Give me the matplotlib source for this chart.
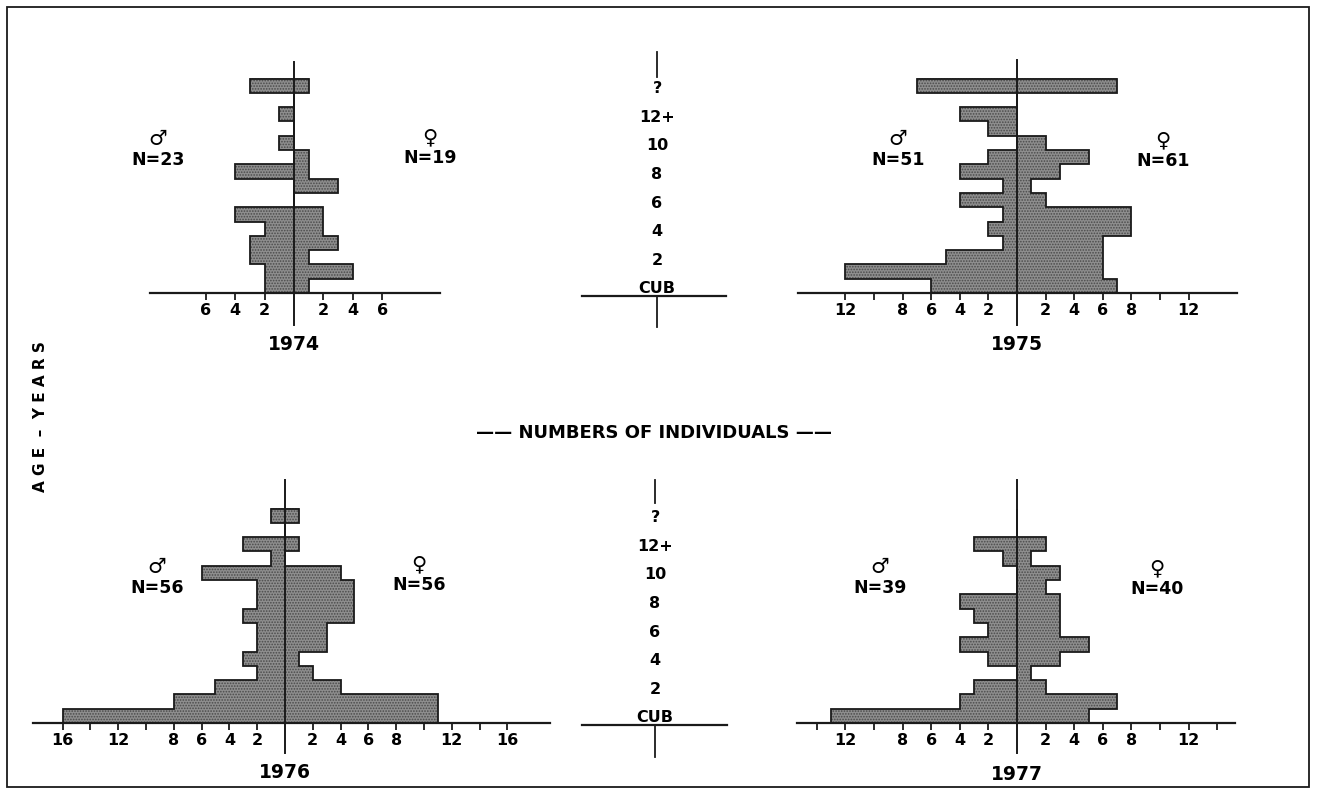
import numpy as np
import matplotlib
matplotlib.use("Agg")
import matplotlib.pyplot as plt
from matplotlib.patches import Rectangle

# age classes, bottom to top (row 13 is an empty spacer before "?")
age_rows = ["CUB", "1", "2", "3", "4", "5", "6", "7", "8", "9", "10", "11", "12+", "", "?"]
center_labels = ["CUB", "2", "4", "6", "8", "10", "12+", "?"]
center_rows = [0, 2, 4, 6, 8, 10, 12, 14]

male_1974 = [2, 2, 3, 3, 2, 4, 0, 0, 4, 0, 1, 0, 1, 0, 3]
female_1974 = [1, 4, 1, 3, 2, 2, 0, 3, 1, 1, 0, 0, 0, 0, 1]
male_1975 = [6, 12, 5, 1, 2, 1, 4, 1, 4, 2, 0, 2, 4, 0, 7]
female_1975 = [7, 6, 6, 6, 8, 8, 2, 1, 3, 5, 2, 0, 0, 0, 7]
male_1976 = [16, 8, 5, 2, 3, 2, 2, 3, 2, 2, 6, 1, 3, 0, 1]
female_1976 = [11, 11, 4, 2, 1, 3, 3, 5, 5, 5, 4, 0, 1, 0, 1]
male_1977 = [13, 4, 3, 0, 2, 4, 2, 3, 4, 0, 0, 1, 3, 0, 0]
female_1977 = [5, 7, 2, 1, 3, 5, 3, 3, 3, 2, 3, 1, 2, 0, 0]

n_male = {"1974": 23, "1975": 51, "1976": 56, "1977": 39}
n_female = {"1974": 19, "1975": 61, "1976": 56, "1977": 40}

W, H = 1317, 791
ROW = 14.3  # px per age class
FACE = "#8e8e8e"
INK = "#1a1a1a"

plt.rcParams["font.family"] = "DejaVu Sans"
plt.rcParams["font.weight"] = "bold"
plt.rcParams["hatch.color"] = "#4a4a4a"
plt.rcParams["hatch.linewidth"] = 0.8

fig = plt.figure(figsize=(W / 100, H / 100), dpi=100)


def fx(x):
    return x / W


def fy(y):
    return 1 - y / H


def pyramid(year, male, female, zx, s, L, R, B, T, vbot, ticks, labeled, year_y):
    ax = fig.add_axes([fx(L), fy(B), (R - L) / W, (B - T) / H])
    ax.set_xlim((L - zx) / s, (R - zx) / s)
    top = (B - T) / ROW
    ax.set_ylim(0, top)
    male = np.array(male)
    female = np.array(female)
    rows = np.arange(len(male))
    edges = np.arange(len(male) + 1)
    ax.barh(rows, -male, height=1, align="edge", color=FACE, hatch="......", linewidth=0)
    ax.barh(rows, female, height=1, align="edge", color=FACE, hatch="......", linewidth=0)
    ax.stairs(-male, edges, orientation="horizontal", baseline=0, color=INK, lw=1.3)
    ax.stairs(female, edges, orientation="horizontal", baseline=0, color=INK, lw=1.3)
    ax.plot([0, 0], [-(vbot - B) / ROW, top], color=INK, lw=1.4, clip_on=False)
    for sp in ["top", "left", "right"]:
        ax.spines[sp].set_visible(False)
    ax.spines["bottom"].set_linewidth(1.6)
    ax.spines["bottom"].set_color(INK)
    ax.set_yticks([])
    ax.set_xticks(ticks)
    ax.set_xticklabels([str(abs(t)) if abs(t) in labeled else "" for t in ticks],
                       fontsize=11.5, fontweight="bold")
    ax.tick_params(axis="x", direction="out", length=5, width=1.3, pad=2, color=INK)
    fig.text(fx(zx), fy(year_y), year, ha="center", va="center", fontsize=13.5, fontweight="bold")
    return ax


def sex_label(x, y, sym, n):
    fig.text(fx(x), fy(y - 21), sym, ha="center", va="center", fontsize=15, fontweight="bold")
    fig.text(fx(x), fy(y), "N=%d" % n, ha="center", va="center", fontsize=12.5, fontweight="bold")


def age_column(B, T, L, R, xc, vtop, vbot):
    ax = fig.add_axes([fx(L), fy(B), (R - L) / W, (B - T) / H])
    ax.set_xlim(L, R)
    top = (B - T) / ROW
    ax.set_ylim(0, top)
    ax.axis("off")
    ax.plot([L, R], [0, 0], color=INK, lw=1.6, clip_on=False)
    ax.plot([xc, xc], [(B - vtop) / ROW, top], color=INK, lw=1.3, clip_on=False)
    ax.plot([xc, xc], [0, -(vbot - B) / ROW], color=INK, lw=1.3, clip_on=False)
    for lab, r in zip(center_labels, center_rows):
        ax.text(xc, r + 0.5, lab, ha="center", va="center", fontsize=11.5, fontweight="bold")


t12 = [-12, -10, -8, -6, -4, -2, 2, 4, 6, 8, 10, 12]
t14 = [-14, -12, -10, -8, -6, -4, -2, 2, 4, 6, 8, 10, 12, 14]
t16 = [-16, -14, -12, -10, -8, -6, -4, -2, 2, 4, 6, 8, 10, 12, 14, 16]

pyramid("1974", male_1974, female_1974, 294, 14.7, 150, 440, 293, 62, 325,
        [-6, -4, -2, 2, 4, 6], [2, 4, 6], 345)
pyramid("1975", male_1975, female_1975, 1017, 14.3, 798, 1237, 293, 60, 325,
        t12, [2, 4, 6, 8, 12], 345)
pyramid("1976", male_1976, female_1976, 285, 13.9, 33, 550, 723, 480, 753,
        t16, [2, 4, 6, 8, 12, 16], 773)
pyramid("1977", male_1977, female_1977, 1017, 14.3, 797, 1235, 723, 480, 753,
        t14, [2, 4, 6, 8, 12], 774)

age_column(296, 52, 582, 726, 657, 77, 327)
age_column(725, 480, 582, 727, 655, 503, 757)

sex_label(158, 160, "\u2642", n_male["1974"])
sex_label(430, 158, "\u2640", n_female["1974"])
sex_label(898, 160, "\u2642", n_male["1975"])
sex_label(1163, 161, "\u2640", n_female["1975"])
sex_label(157, 588, "\u2642", n_male["1976"])
sex_label(419, 585, "\u2640", n_female["1976"])
sex_label(880, 588, "\u2642", n_male["1977"])
sex_label(1157, 589, "\u2640", n_female["1977"])

fig.text(fx(654), fy(433), "\u2014\u2014 NUMBERS OF INDIVIDUALS \u2014\u2014",
         ha="center", va="center", fontsize=13, fontweight="bold")
fig.text(fx(41), fy(417), "A G E  \u2013  Y E A R S", ha="center", va="center",
         rotation=90, fontsize=11, fontweight="bold")

fig.patches.append(Rectangle((fx(7), fy(787)), (1309 - 7) / W, (787 - 7) / H,
                             transform=fig.transFigure, fill=False,
                             edgecolor=INK, lw=1.3))

fig.savefig("out.png", dpi=100)
